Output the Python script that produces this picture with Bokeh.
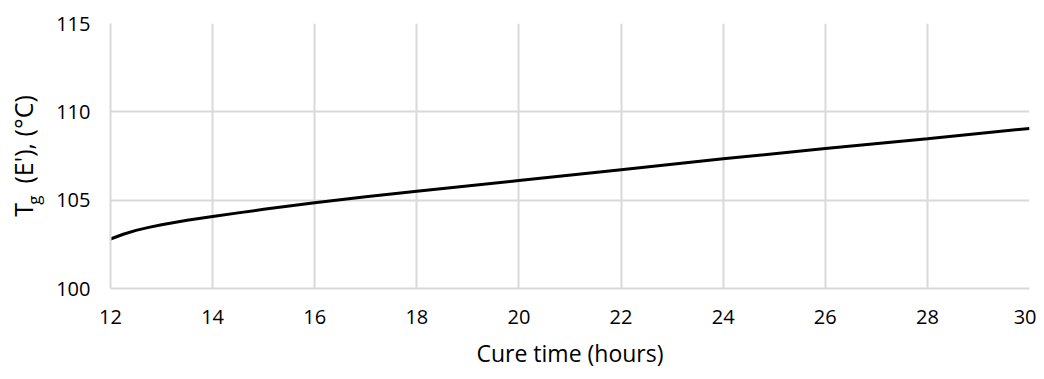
from bokeh.plotting import figure
from bokeh.models import Range1d, FixedTicker, LinearAxis
from bokeh.embed import file_html
from bokeh.resources import INLINE

# Data
cure_time = [12, 12.25, 12.5, 12.75, 13, 13.5, 14, 14.5, 15, 16, 17, 18, 20, 22, 24, 26, 28, 30]
tg_values = [102.8, 103.07, 103.29, 103.46, 103.61, 103.86, 104.07, 104.28, 104.48, 104.86,
             105.19, 105.5, 106.11, 106.72, 107.34, 107.92, 108.48, 109.06]
x_ticks = [12, 14, 16, 18, 20, 22, 24, 26, 28, 30]
y_ticks = [100, 105, 110, 115]
x_title = "Cure time (hours)"
y_title_main = "T"
y_title_sub = "g"
y_title_rest = "(E'), (°C)"

FONT = "Open Sans"
GRID = "#d9d9d9"
NB = "\u00a0"

p = figure(width=1036, height=371, output_backend="svg", toolbar_location=None,
           x_range=Range1d(12, 30), y_range=Range1d(100, 115),
           min_border_left=110, min_border_right=7, min_border_top=23,
           min_border_bottom=80)
p.outline_line_color = None
p.background_fill_color = "white"
p.border_fill_color = "white"

p.line(cure_time, tg_values, line_color="black", line_width=3)

for ax in (p.xaxis[0], p.yaxis[0]):
    ax.axis_line_color = GRID
    ax.axis_line_width = 2
    ax.major_tick_line_color = None
    ax.minor_tick_line_color = None
    ax.major_tick_out = 0
    ax.minor_tick_out = 0
    ax.major_label_text_font = FONT
    ax.major_label_text_font_size = "20px"
    ax.major_label_text_color = "#000000"
    ax.axis_label_text_font = FONT
    ax.axis_label_text_font_style = "normal"
    ax.axis_label_text_color = "#000000"

p.xaxis.ticker = FixedTicker(ticks=x_ticks)
p.yaxis.ticker = FixedTicker(ticks=y_ticks)
p.xaxis.major_label_standoff = 21
p.yaxis.major_label_standoff = 20
p.xaxis.axis_label = x_title
p.xaxis.axis_label_text_font_size = "23px"
p.xaxis.axis_label_standoff = 10
p.yaxis.axis_label = y_title_main + NB * 3 + y_title_rest
p.yaxis.axis_label_text_font_size = "25px"
p.yaxis.axis_label_standoff = 13

# subscript "g" as the label of a second, tick-less axis
sub_axis = LinearAxis(ticker=FixedTicker(ticks=[]), axis_line_color=None,
                      major_tick_line_color=None, minor_tick_line_color=None,
                      major_tick_out=0, minor_tick_out=0,
                      major_label_text_font_size="0px",
                      axis_label=y_title_sub + NB * 20, axis_label_standoff=-41,
                      axis_label_text_font=FONT, axis_label_text_font_style="normal",
                      axis_label_text_font_size="17px", axis_label_text_color="#000000")
p.add_layout(sub_axis, "left")

p.xgrid.ticker = FixedTicker(ticks=x_ticks)
p.ygrid.ticker = FixedTicker(ticks=y_ticks)
p.grid.grid_line_color = GRID
p.grid.grid_line_width = 2

open("out.html", "w").write(file_html(p, INLINE))
